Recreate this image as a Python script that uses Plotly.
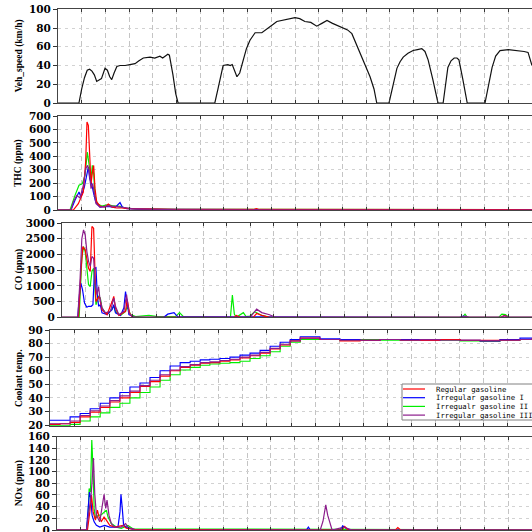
import plotly.graph_objects as go

# ---------------- data ----------------
series_names = ["Regular gasoline", "Irregular gasoline I", "Irregualr gasoline II", "Irregular gasoline III"]
series_colors = ["#ff0000", "#0000ff", "#00ee00", "#8c1c8c"]

# Vehicle speed (km/h)
speed_t = [0, 53, 60, 67, 74, 80, 86, 92, 98, 104, 110, 119, 125, 131, 136, 142, 149, 157, 170, 182, 195, 205,
           216, 233, 245, 258, 265, 278, 282, 291, 298, 304, 397, 405, 412, 418, 430, 436, 441, 453, 460, 468,
           477, 486, 499, 516, 530, 545, 554, 575, 590, 600, 612, 625, 640, 655, 668, 681, 695, 710, 722, 733,
           744, 756, 769, 780, 790, 800, 807, 838, 848, 858, 866, 874, 886, 899, 910, 921, 929, 937, 949, 962,
           975, 981, 987, 995, 1003, 1010, 1015, 1025, 1036, 1081, 1090, 1099, 1108, 1119, 1140, 1160, 1170,
           1180, 1190, 1200]
speed_v = [0, 0, 15, 27, 35, 36, 34, 30, 23, 25, 26, 37, 35, 28, 25, 32, 39, 40, 40, 41, 42, 45,
           48, 49, 48, 50, 48, 52, 51, 30, 10, 0, 0, 15, 30, 40, 41, 40, 41, 28, 32, 44,
           58, 67, 75, 75, 79, 84, 87, 89, 90, 91, 90, 87, 86, 82, 85, 88, 85, 82, 80, 78,
           74, 62, 49, 40, 28, 15, 0, 0, 20, 37, 44, 49, 53, 56, 57, 58, 55, 46, 25, 0,
           0, 20, 38, 45, 48, 48, 46, 25, 0, 0, 20, 38, 50, 56, 57, 56, 56,
           55, 54, 40]

# THC (ppm)
thc_red_t = [0, 38.8, 51.5, 64.1, 70.0, 73.4, 76.8, 80.2, 83.6, 87.8, 90.3, 93.7, 97.9, 106.3, 119, 127.4, 135.9,
             148.5, 161.2, 178, 245.6, 300, 495, 502, 510, 700, 1200]
thc_red_v = [0, 0, 47, 134, 357, 655, 630, 357, 196, 295, 332, 159, 60, 30, 22, 45, 22,
             15, 16, 10, 6, 5, 4, 10, 4, 3, 2]
thc_blue_t = [0, 32.9, 43, 53.2, 58.2, 66.7, 72.6, 76.8, 80.2, 85.2, 89.5, 95.4, 106.3, 127.4, 144.3, 157, 162.9,
              173.9, 203.4, 300, 1200]
thc_blue_v = [0, 0, 72, 134, 97, 171, 258, 320, 233, 196, 134, 60, 22, 27, 17, 55, 22,
              10, 6, 4, 2]
thc_green_t = [0, 30.4, 43, 53.2, 61.6, 68.4, 74.3, 78.5, 83.6, 86.9, 90.3, 93.7, 99.6, 110.6, 127.4, 140.1, 157,
               169.6, 195, 300, 495, 502, 510, 1200]
thc_green_v = [0, 0, 109, 184, 196, 258, 432, 320, 233, 332, 270, 109, 47, 30, 40, 30, 27,
               15, 8, 5, 4, 8, 4, 2]
thc_purple_t = [0, 32.9, 38.8, 47.3, 55.7, 64.1, 70, 75.1, 78.5, 83.6, 87.8, 92, 96.2, 106.3, 127.4, 144.3, 161.2,
                186.5, 300, 1200]
thc_purple_v = [0, 0, 60, 109, 89, 184, 308, 332, 295, 159, 196, 109, 47, 22, 30, 27, 22,
                10, 2, 0]

# CO (ppm)
co_red_t = [0, 42, 48.9, 53.2, 59.2, 67.8, 72.1, 76.4, 80.7, 83.2, 86.7, 91.8, 95.3, 102.1, 115, 127.9, 132.2,
            136.5, 145.1, 162.2, 166.5, 172.5, 179.4, 440, 445, 455, 488, 497, 510, 530, 1120, 1130, 1140, 1200]
co_red_v = [0, 0, 1560, 2250, 2150, 1560, 1460, 2890, 2830, 1560, 500, 610, 666, 240, 85, 500, 666,
            300, 60, 190, 560, 140, 0, 0, 60, 0, 0, 120, 60, 0, 0, 60, 0, 0]
co_blue_t = [0, 40.3, 44.6, 48.1, 52.4, 57.5, 63.5, 67.8, 74.7, 79, 83.2, 86.7, 90.1, 93.5, 97.8, 102.1, 115,
             127.9, 132.2, 136.5, 149.3, 158, 162.2, 166.5, 170.8, 183.7, 260, 270, 286, 295, 1015, 1025, 1035, 1200]
co_blue_v = [0, 0, 720, 1090, 880, 450, 320, 350, 350, 400, 1560, 1580, 720, 350, 400, 140, 85,
             240, 400, 140, 60, 300, 820, 500, 85, 10, 0, 100, 150, 20, 0, 40, 0, 0]
co_green_t = [0, 43.8, 50.6, 55, 59.2, 63.5, 67.8, 72.1, 76.4, 80.7, 83.2, 86.7, 93.5, 97.8, 102.1, 110.7, 119.3,
              127.9, 132.2, 136.5, 149.3, 162.2, 166.5, 175.1, 188, 222, 239.5, 290, 300, 310, 430, 435, 440, 445,
              463, 470, 480, 492, 510, 530, 875, 883, 890, 1022, 1029, 1035, 1115, 1123, 1132, 1141, 1200]
co_green_v = [0, 0, 1880, 2250, 2090, 1460, 1035, 980, 1460, 1560, 1140, 400, 666, 610, 300, 140, 140,
              300, 350, 190, 60, 190, 350, 85, 20, 60, 30, 20, 150, 20, 0, 705, 100, 0,
              147, 20, 40, 180, 60, 0, 0, 20, 0, 0, 100, 0, 0, 100, 90, 0, 0]
co_purple_t = [0, 40.3, 46.3, 50.6, 55, 59.2, 63.5, 67.8, 72.1, 76.4, 80.7, 84.9, 89.3, 93.5, 96.1, 102.1, 110.7,
               123.6, 132.2, 136.5, 145.1, 158, 164.8, 170.8, 179.4, 190, 480, 488, 497, 510, 530, 545, 630, 640,
               650, 1020, 1030, 1040, 1120, 1130, 1140, 1200]
co_purple_v = [0, 0, 1250, 2500, 2780, 2620, 2090, 1780, 1620, 1935, 1880, 1035, 720, 980, 666, 300, 140,
               190, 610, 350, 85, 190, 720, 140, 20, 0, 0, 120, 260, 150, 80, 0, 0, 20,
               0, 0, 40, 0, 0, 50, 0, 0]

# Coolant temperature
cool_t = [0, 25, 50, 75, 100, 125, 149, 174, 199, 224, 249, 274, 299, 324, 349, 374, 398, 423, 448, 473, 498,
          523, 548, 573, 598, 623, 672, 722, 772, 822, 872, 921, 971, 1021, 1071, 1120, 1170, 1200]
cool_red = [20.5, 21, 22, 26, 29.5, 33, 37, 40, 44, 48.5, 52, 56, 60, 62.5, 64, 65.5, 66, 67, 68, 69.5, 71,
            73, 76, 79, 82, 84, 83, 82, 82.5, 83, 82.5, 82.5, 83, 82.5, 82.5, 82.5, 83, 84]
cool_blue = [23.5, 23.5, 26, 28.5, 32, 36, 40, 44, 48, 51, 55, 60, 63.5, 66, 67, 68, 68.5, 69, 70, 71.5, 73,
             75, 78, 81, 83, 85, 83.5, 83, 82.5, 83, 83, 82.5, 83, 82.5, 82, 83, 84, 83.5]
cool_green = [19.5, 19.5, 20.5, 23, 26, 29, 33, 36, 40, 44, 48, 53, 57, 60.5, 62.5, 64, 65, 65.5, 66, 67, 69,
              71, 74, 78, 81, 83, 83, 82.5, 83, 82.5, 82.5, 83, 82.5, 82, 81.5, 82.5, 83, 83]
cool_purple = [21, 21, 23, 27, 30.5, 34, 38, 41.5, 45, 49, 53, 57, 60.5, 63, 64.5, 66, 66.5, 67.5, 68.5, 70, 71.5,
               73.5, 76.5, 79.5, 82, 84, 83, 82.5, 82.5, 83, 82.5, 83, 82.5, 82.5, 82, 82.5, 83, 83.5]

# NOx (ppm)
nox_red_t = [0, 77, 82.9, 87.1, 91.3, 97.1, 102.1, 106.3, 112.2, 118.9, 124.7, 133.1, 145.7, 166.6, 175, 195.9,
             720, 727, 735, 855, 861, 868, 1200]
nox_red_v = [0, 0, 31, 60, 31, 17, 34, 22, 15, 22, 17, 8, 5, 8, 3, 1, 0, 6, 0, 0, 4, 0, 0]
nox_blue_t = [0, 74.5, 78.7, 82, 85.4, 88.7, 93.8, 99.6, 108, 120.6, 133.1, 154, 159.1, 161.6, 164.9, 168.3,
              179.1, 195.9, 630, 635, 640, 715, 722, 730, 740, 1200]
nox_blue_v = [0, 0, 37, 65, 54, 25, 14, 8, 5, 8, 5, 5, 31, 61, 37, 8, 3, 1, 0, 5, 0, 0, 7, 3, 0, 0]
nox_green_t = [0, 74.5, 78.7, 81.2, 84.6, 87.9, 91.3, 93.8, 97.1, 103.8, 112.2, 118.9, 124.7, 128.9, 137.3,
               149.8, 162.4, 179.1, 191.7, 1200]
nox_green_v = [0, 0, 25, 71, 65, 154, 100, 37, 20, 25, 26, 31, 34, 22, 11, 5, 3, 8, 2, 0]
nox_purple_t = [0, 74.5, 80.4, 85.4, 88.7, 92.1, 95.4, 99.6, 108, 113.9, 118.9, 123.1, 126.4, 131.4, 137.3,
                145.7, 162.4, 173.3, 179.1, 195.9, 665, 672, 679, 684, 690, 695, 725, 735, 745, 1200]
nox_purple_v = [0, 0, 31, 54, 83, 123, 62, 25, 14, 37, 61, 37, 51, 25, 11, 5, 5, 11, 5, 0, 0, 15, 43, 25, 10,
                0, 5, 3, 0, 0]

y_titles = ["Veh_speed (km/h)", "THC (ppm)", "CO (ppm)", "Coolant temp.", "NOx (ppm)"]

# ---------------- figure ----------------
W = H = 532
def px_x(p):
    return p / W
def px_y(p):
    return (H - p) / H

# panel geometry in screen pixels: (left, top, bottom)
panels = [(58, 9.3, 103), (58, 116, 210), (62, 223, 317.3), (50, 330, 426), (57, 436.5, 530)]
y_ranges = [[0, 100], [0, 700], [0, 3000], [19.3, 90], [0, 160]]
y_dticks = [20, 100, 500, 10, 20]

fig = go.Figure()

def add(tr, row):
    sfx = "" if row == 1 else str(row)
    tr.update(xaxis="x" + sfx, yaxis="y" + sfx, showlegend=False, hoverinfo="skip")
    fig.add_trace(tr)

add(go.Scatter(x=speed_t, y=speed_v, mode="lines", line=dict(color="#111111", width=1.2)), 1)

order = [2, 1, 0, 3]  # draw green, blue, red, purple
thc = [(thc_red_t, thc_red_v), (thc_blue_t, thc_blue_v), (thc_green_t, thc_green_v), (thc_purple_t, thc_purple_v)]
co = [(co_red_t, co_red_v), (co_blue_t, co_blue_v), (co_green_t, co_green_v), (co_purple_t, co_purple_v)]
cool = [cool_red, cool_blue, cool_green, cool_purple]
nox = [(nox_red_t, nox_red_v), (nox_blue_t, nox_blue_v), (nox_green_t, nox_green_v), (nox_purple_t, nox_purple_v)]

for i in order:
    add(go.Scatter(x=thc[i][0], y=thc[i][1], mode="lines", line=dict(color=series_colors[i], width=1.2)), 2)
for i in order:
    add(go.Scatter(x=co[i][0], y=co[i][1], mode="lines", line=dict(color=series_colors[i], width=1.2)), 3)
for i in order:
    add(go.Scatter(x=cool_t, y=cool[i], mode="lines", line=dict(color=series_colors[i], width=1.1, shape="hv")), 4)
for i in order:
    add(go.Scatter(x=nox[i][0], y=nox[i][1], mode="lines", line=dict(color=series_colors[i], width=1.2)), 5)

tickfont = dict(family="DejaVu Serif, serif", size=10.5, color="black", weight="bold")
layout = dict(template="none", width=W, height=H, margin=dict(l=0, r=0, t=0, b=0, pad=0),
              paper_bgcolor="white", plot_bgcolor="white", showlegend=False, hovermode=False)
annotations = []
for k, (left, top, bot) in enumerate(panels):
    sfx = "" if k == 0 else str(k + 1)
    layout["xaxis" + sfx] = dict(domain=[px_x(left), 1.0], range=[0, 1200], dtick=60, tick0=0,
                                 showticklabels=False, ticks="inside", ticklen=3, tickcolor="#333",
                                 showline=True, linecolor="#444", linewidth=1, mirror="ticks",
                                 showgrid=True, gridcolor="#c4c4c4", griddash="5px,3px", gridwidth=1,
                                 zeroline=False, anchor="y" + sfx, fixedrange=True, automargin=False)
    layout["yaxis" + sfx] = dict(domain=[px_y(bot), px_y(top)], range=y_ranges[k], dtick=y_dticks[k],
                                 tick0=0, ticks="outside", ticklen=4, tickcolor="#333",
                                 showline=True, linecolor="#444", linewidth=1,
                                 showgrid=True, gridcolor="#d2d2d2", griddash="3px,4px", gridwidth=1,
                                 zeroline=False, tickfont=tickfont, anchor="x" + sfx, fixedrange=True,
                                 automargin=False, ticklabeloverflow="allow")
    annotations.append(dict(text=y_titles[k], xref="paper", yref="paper", x=px_x(19), y=px_y((top + bot) / 2),
                            xanchor="center", yanchor="middle", textangle=-90, showarrow=False,
                            font=dict(family="Liberation Serif, Times New Roman, serif", size=9.5,
                                      color="black", weight="bold")))

# custom legend box inside coolant panel
shapes = [dict(type="rect", xref="paper", yref="paper", x0=px_x(402), x1=px_x(545), y0=px_y(420), y1=px_y(384),
               line=dict(color="#808080", width=1), fillcolor="white", layer="above")]
rows = [389, 397.7, 406.4, 415.1]
for i, ry in enumerate(rows):
    shapes.append(dict(type="line", xref="paper", yref="paper", x0=px_x(403), x1=px_x(425), y0=px_y(ry),
                       y1=px_y(ry), line=dict(color=series_colors[i], width=1.2), layer="above"))
    annotations.append(dict(text=series_names[i], xref="paper", yref="paper", x=px_x(434), y=px_y(ry),
                            xanchor="left", yanchor="middle", showarrow=False,
                            font=dict(family="DejaVu Sans Mono, monospace", size=7.3, color="black")))

layout["shapes"] = shapes
layout["annotations"] = annotations
fig.update_layout(**layout)
fig.write_html("out.html", config={"displayModeBar": False, "staticPlot": True},
               post_script="document.body.style.margin='0';document.body.style.overflow='hidden';")
